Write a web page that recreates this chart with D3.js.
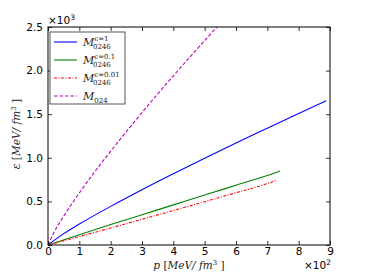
<!DOCTYPE html>
<html>
<head>
<meta charset="utf-8">
<script src="https://cdn.jsdelivr.net/npm/d3@7"></script>
<style>
  body { margin: 0; background: #fff; }
  svg text { font-family: "DejaVu Sans", sans-serif; }
</style>
</head>
<body>
<div id="chart"></div>
<script>
// pressure p (units of 100 MeV/fm^3) and energy density eps (units of 1000 MeV/fm^3)
const pBlue = [0, 0.5, 1, 2, 3, 4, 5, 6, 7, 8, 8.88];
const eBlue = [0, 0.13, 0.24, 0.443, 0.634, 0.817, 0.996, 1.17, 1.34, 1.509, 1.655];
const pGreen = [0, 1, 2, 3, 4, 5, 6, 7, 7.41];
const eGreen = [0, 0.118, 0.234, 0.347, 0.46, 0.573, 0.685, 0.797, 0.849];
const pRed = [0, 1, 2, 3, 4, 5, 6, 7, 7.28];
const eRed = [0, 0.097, 0.195, 0.295, 0.395, 0.497, 0.6, 0.705, 0.742];
const pMag = [0, 0.25, 0.5, 1, 1.5, 2, 2.5, 3, 3.5, 4, 4.5, 5, 5.6];
const eMag = [0, 0.184, 0.331, 0.597, 0.843, 1.076, 1.30, 1.519, 1.732, 1.94, 2.144, 2.345, 2.582];

const xTicks = [0, 1, 2, 3, 4, 5, 6, 7, 8, 9];
const yTicks = [0, 0.5, 1.0, 1.5, 2.0, 2.5];

const series = [
  { p: pBlue, e: eBlue, color: "#0000ff", dash: null, sup: "\u03f5=1", sub: "0246" },
  { p: pGreen, e: eGreen, color: "#008000", dash: null, sup: "\u03f5=0.1", sub: "0246" },
  { p: pRed, e: eRed, color: "#ff0000", dash: "3,1.5,1,1.5", sup: "\u03f5=0.01", sub: "0246" },
  { p: pMag, e: eMag, color: "#bf00bf", dash: "3.5,2", sup: null, sub: "024" }
];

const width = 367, height = 273;
const margin = { top: 27, right: 37, bottom: 28, left: 48 };

const svg = d3.select("#chart").append("svg")
  .attr("width", width)
  .attr("height", height);

const x = d3.scaleLinear().domain([0, 9]).range([margin.left, width - margin.right]);
const y = d3.scaleLinear().domain([0, 2.5]).range([height - margin.bottom, margin.top]);

svg.append("clipPath").attr("id", "clip")
  .append("rect")
  .attr("x", x(0)).attr("y", y(2.5))
  .attr("width", x(9) - x(0)).attr("height", y(0) - y(2.5));

const line = d3.line().x(d => x(d[0])).y(d => y(d[1])).curve(d3.curveMonotoneX);

series.forEach(s => {
  svg.append("path")
    .attr("clip-path", "url(#clip)")
    .attr("d", line(s.p.map((v, i) => [v, s.e[i]])))
    .attr("fill", "none")
    .attr("stroke", s.color)
    .attr("stroke-width", 1.1)
    .attr("stroke-dasharray", s.dash);
});

// axes, ticks inside on all four sides
const tickLen = 4;
svg.append("g")
  .attr("transform", "translate(0," + y(0) + ")")
  .call(d3.axisBottom(x).tickValues(xTicks).tickSizeInner(-tickLen).tickSizeOuter(0).tickPadding(3).tickFormat(d3.format("d")));
svg.append("g")
  .attr("transform", "translate(0," + y(2.5) + ")")
  .call(d3.axisTop(x).tickValues(xTicks).tickSizeInner(-tickLen).tickSizeOuter(0).tickFormat(""));
svg.append("g")
  .attr("transform", "translate(" + x(0) + ",0)")
  .call(d3.axisLeft(y).tickValues(yTicks).tickSizeInner(-tickLen).tickSizeOuter(0).tickPadding(5).tickFormat(d3.format(".1f")));
svg.append("g")
  .attr("transform", "translate(" + x(9) + ",0)")
  .call(d3.axisRight(y).tickValues(yTicks).tickSizeInner(-tickLen).tickSizeOuter(0).tickFormat(""));

svg.selectAll(".domain").remove();
svg.selectAll(".tick line").attr("stroke", "#000").attr("stroke-width", 0.8);
svg.selectAll(".tick text").attr("font-size", 10.5).attr("fill", "#000")
  .style("font-family", "DejaVu Sans, sans-serif");

svg.append("rect")
  .attr("x", x(0)).attr("y", y(2.5))
  .attr("width", x(9) - x(0)).attr("height", y(0) - y(2.5))
  .attr("fill", "none").attr("stroke", "#000").attr("stroke-width", 1);

// offset texts
const off = (tx, ty, exp) => {
  const t = svg.append("text").attr("x", tx).attr("y", ty).attr("font-size", 10.5);
  t.append("tspan").text("\u00d710");
  t.append("tspan").attr("dy", -4).attr("font-size", 7.5).text(exp);
};
off(x(0), y(2.5) - 3, "3");
off(x(9) - 26, height - 4, "2");

// axis labels
const serif = "'DejaVu Serif', 'Liberation Serif', serif";
const xl = svg.append("text")
  .attr("x", (x(0) + x(9)) / 2).attr("y", height - 4)
  .attr("text-anchor", "middle").attr("font-size", 10.5)
  .style("font-family", serif).attr("fill", "#222");
xl.append("tspan").attr("font-style", "italic").text("p");
xl.append("tspan").text(" [");
xl.append("tspan").attr("font-style", "italic").text("MeV/ fm");
xl.append("tspan").attr("dy", -4).attr("font-size", 7).text("3");
xl.append("tspan").attr("dy", 4).text(" ]");

const yl = svg.append("text")
  .attr("transform", "translate(20," + ((y(0) + y(2.5)) / 2 - 2) + ") rotate(-90)")
  .attr("text-anchor", "middle").attr("font-size", 10.5)
  .style("font-family", serif).attr("fill", "#222");
yl.append("tspan").attr("font-style", "italic").text("\u03b5");
yl.append("tspan").text(" [");
yl.append("tspan").attr("font-style", "italic").text("MeV/ fm");
yl.append("tspan").attr("dy", -4).attr("font-size", 7).text("3");
yl.append("tspan").attr("dy", 4).text(" ]");

// legend
const lg = svg.append("g").attr("transform", "translate(50,32)");
lg.append("rect")
  .attr("width", 75).attr("height", 72)
  .attr("fill", "#fff").attr("stroke", "#555").attr("stroke-width", 1);
series.forEach((s, i) => {
  const ly = 10 + i * 18;
  lg.append("line")
    .attr("x1", 4).attr("x2", 27).attr("y1", ly).attr("y2", ly)
    .attr("stroke", s.color).attr("stroke-width", 1.1)
    .attr("stroke-dasharray", s.dash);
  const t = lg.append("text").attr("x", 33).attr("y", ly + 4)
    .attr("font-size", 11).style("font-family", serif).attr("fill", "#222");
  t.append("tspan").attr("font-style", "italic").text("M");
  if (s.sup) {
    t.append("tspan").attr("dy", -5).attr("font-size", 7).text(s.sup);
    t.append("tspan").attr("x", 43).attr("dy", 8).attr("font-size", 7).text(s.sub);
  } else {
    t.append("tspan").attr("dy", 3).attr("font-size", 7).text(s.sub);
  }
});
</script>
</body>
</html>
